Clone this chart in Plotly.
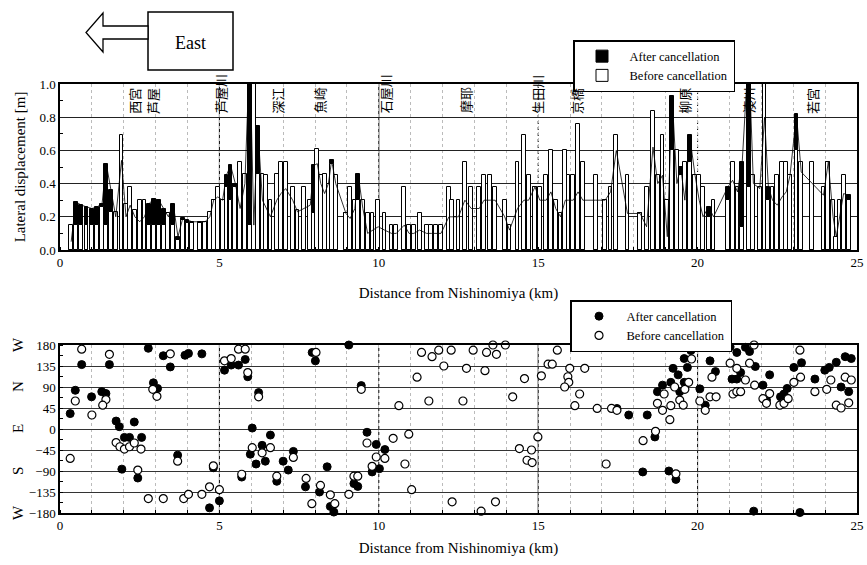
import plotly.graph_objects as go

# ---------------- data: top panel (lateral displacement, m) ----------------
bar_km = [0.35, 0.5, 0.67, 0.83, 1.0, 1.17, 1.32, 1.45, 1.6, 1.75, 1.93, 2.07, 2.2, 2.35,
          2.5, 2.65, 2.8, 2.95, 3.1, 3.25, 3.4, 3.55, 3.7, 3.85, 4.0, 4.15, 4.4, 4.55,
          4.7, 4.82, 4.95, 5.1, 5.22, 5.35, 5.5, 5.65, 5.8, 5.95, 6.08, 6.2,
          6.35, 6.47, 6.6, 6.8, 6.93, 7.08, 7.3, 7.45, 7.65, 7.85, 7.97, 8.07, 8.18,
          8.3, 8.42, 8.52, 8.65, 8.97, 9.1, 9.25, 9.35, 9.5, 9.65, 9.8, 9.98, 10.18,
          10.4, 10.55, 10.8, 10.95, 11.1, 11.28, 11.5, 11.65, 11.8, 11.95, 12.2, 12.3,
          12.5, 12.7, 12.9, 13.15, 13.3, 13.5, 13.65, 13.95, 14.1, 14.35, 14.55, 14.7,
          14.9, 15.05, 15.25, 15.4, 15.55, 15.7, 15.85, 15.95, 16.1, 16.25, 16.4, 16.8,
          17.1, 17.27, 17.45, 17.8, 18.2, 18.4, 18.6, 18.75, 18.9, 19.05, 19.2, 19.35,
          19.47, 19.6, 19.75, 19.92, 20.05, 20.17, 20.35, 20.5, 20.95, 21.1, 21.25,
          21.4, 21.6, 21.75, 21.95, 22.1, 22.22, 22.35, 22.5, 22.65, 22.78, 22.9,
          23.1, 23.25, 23.6, 23.95, 24.1, 24.25, 24.35, 24.45, 24.58, 24.75]
before_disp = [0.15, 0.15, 0.15, 0.15, 0.15, 0.15, 0.26, 0.15, 0.23, 0.23, 0.69, 0.28, 0.38, 0.24,
               0.30, 0.30, 0.15, 0.15, 0.15, 0.15, 0.22, 0.15, 0.06, 0.18, 0.16, 0.16, 0.16, 0.17,
               0.23, 0.30, 0.38, 0.30, 0.38, 0.30, 0.38, 0.53, 0.46, 0.15, 1.20, 0.46,
               0.46, 0.45, 0.30, 0.46, 0.53, 0.53, 0.38, 0.24, 0.38, 0.30, 0.22, 0.61, 0.45,
               0.46, 0.40, 0.52, 0.45, 0.22, 0.38, 0.30, 0.30, 0.30, 0.22, 0.22, 0.30, 0.22,
               0.15, 0.15, 0.38, 0.15, 0.15, 0.22, 0.15, 0.15, 0.15, 0.15, 0.38, 0.30,
               0.30, 0.53, 0.38, 0.38, 0.45, 0.45, 0.38, 0.30, 0.15, 0.53, 0.69, 0.45,
               0.38, 0.38, 0.45, 0.60, 0.30, 0.22, 0.60, 0.45, 0.45, 0.76, 0.53, 0.45,
               0.30, 0.38, 0.69, 0.45, 0.22, 0.38, 0.84, 0.45, 0.69, 0.30, 0.60, 0.60,
               0.45, 0.53, 0.53, 0.45, 0.45, 0.38, 0.20, 0.30, 0.30, 0.53, 0.38,
               0.14, 0.38, 0.45, 0.38, 1.20, 0.30, 0.38, 0.45, 0.53, 0.53, 0.45,
               0.60, 0.53, 0.53, 0.38, 0.53, 0.30, 0.08, 0.30, 0.45, 0.30]
after_disp = [0.05, 0.29, 0.27, 0.26, 0.25, 0.26, 0.28, 0.52, 0.36, 0.20, 0.54, 0.20, 0.27, 0.20,
              0.17, 0.20, 0.28, 0.31, 0.30, 0.25, 0.20, 0.28, 0.08, 0.19, 0.18, 0.17, 0.17, 0.17,
              0.20, 0.30, 0.32, 0.30, 0.45, 0.51, 0.40, 0.25, 0.40, 1.20, 0.15, 0.75,
              0.30, 0.25, 0.20, 0.30, 0.34, 0.37, 0.30, 0.23, 0.25, 0.27, 0.51, 0.52, 0.40,
              0.34, 0.40, 0.54, 0.40, 0.22, 0.19, 0.25, 0.46, 0.25, 0.10, 0.12, 0.14, 0.12,
              0.10, 0.10, 0.15, 0.10, 0.10, 0.12, 0.10, 0.10, 0.10, 0.10, 0.20, 0.20,
              0.20, 0.30, 0.25, 0.25, 0.30, 0.30, 0.30, 0.20, 0.12, 0.25, 0.30, 0.30,
              0.38, 0.30, 0.30, 0.35, 0.25, 0.20, 0.30, 0.30, 0.30, 0.35, 0.30, 0.30,
              0.30, 0.35, 0.60, 0.22, 0.22, 0.14, 0.62, 0.40, 0.45, 0.08, 0.93, 0.40,
              0.50, 0.30, 0.69, 0.45, 0.30, 0.20, 0.26, 0.20, 0.38, 0.42, 0.35,
              0.53, 1.20, 0.40, 0.37, 0.80, 0.38, 0.30, 0.27, 0.32, 0.35, 0.45,
              0.82, 0.47, 0.40, 0.33, 0.53, 0.20, 0.08, 0.20, 0.34, 0.33]

station_names = ["西宮", "芦屋", "芦屋川", "深江", "魚崎", "石屋川", "摩耶", "生田川",
                 "京橋", "柳原", "湊川", "若宮"]
station_km = [2.33, 2.9, 5.02, 6.81, 8.15, 10.2, 12.72, 14.95, 16.2, 19.58, 21.6, 23.6]

# ---------------- data: bottom panel (direction, deg) ----------------
after_dir_km = [0.32, 0.68, 0.48, 0.99, 1.31, 1.44, 1.55, 1.76, 1.86, 2.02, 2.18, 2.33, 2.56, 1.94,
                2.44, 2.77, 2.93, 3.06, 3.24, 3.46, 3.69, 3.92, 4.03, 4.45, 4.69, 4.81, 5.0, 5.16,
                5.37, 5.6, 5.81, 5.89, 6.23, 6.03, 5.97, 6.15, 6.34, 6.44, 6.6, 5.7, 7.0, 7.16,
                6.8, 7.32, 7.91, 8.01, 8.38, 7.7, 8.14, 8.48, 8.59, 9.06, 9.45, 9.63, 9.92,
                10.19, 9.79, 10.02, 9.22, 9.34,
                17.47, 17.84, 18.42, 18.66, 18.28, 19.1, 19.32, 18.74, 18.9, 19.16, 19.23,
                19.39, 19.44, 19.58, 19.58, 19.79, 19.68, 20.07, 20.24, 20.56, 20.39, 20.49,
                21.02, 21.23, 21.08, 21.23, 21.35, 21.5, 21.63, 21.81, 22.05, 22.16, 22.26,
                22.6, 22.71, 22.81, 23.02, 23.26, 23.68, 23.99, 24.13, 24.35, 24.5, 24.74,
                24.63, 24.82, 21.76, 23.21]
after_dir_deg = [33, 138, 83, 69, 80, 76, 138, 17, 5, -18, -18, 15, -18, -86,
                 -105, 173, 99, 87, 157, 133, -56, 158, 162, 161, -169, -83, -154, 126,
                 137, 137, 149, 112, 78, 2, -54, -75, -35, -69, -13, -103, -69, -88,
                 -112, -48, 164, 146, -81, -124, -135, -166, -178, 180, 93, -7, -33,
                 -44, -92, -85, -117, -123,
                 44, 30, 30, -17, -92, -90, -108, 80, 94, 100, 130,
                 116, 80, 100, 151, 168, 132, 86, 51, 123, 146, 176,
                 176, 164, 107, 107, 121, 175, 166, 134, 94, 62, 116,
                 69, 75, 87, 132, 142, 107, 126, 132, 143, 90, 80,
                 155, 151, -176, -179]
before_dir_km = [0.68, 0.48, 0.32, 1.0, 1.44, 1.34, 1.55, 1.76, 1.88, 2.02, 2.18, 2.33, 2.54, 2.44,
                 2.77, 2.91, 3.04, 3.46, 3.24, 3.69, 3.88, 4.03, 4.45, 4.69, 4.81, 5.0, 5.16, 5.37,
                 5.6, 5.81, 5.89, 6.23, 6.03, 6.34, 6.6, 5.7, 6.8, 7.32, 8.03, 7.72, 8.17, 8.48,
                 7.9, 8.62, 9.45, 9.63, 9.92, 10.19, 10.45, 10.94, 9.79, 9.22, 9.34, 9.06, 10.82,
                 11.03, 12.3, 13.21, 13.66, 10.63, 11.2, 11.34, 11.67, 11.88, 12.04, 12.27, 11.57,
                 12.64, 12.75, 12.96, 13.33, 13.38, 13.58, 13.69, 13.97, 14.2, 14.57, 15.1, 15.31,
                 15.44, 15.6, 15.99, 16.46, 15.93, 15.96, 15.83, 16.3, 16.15, 16.85, 14.41, 14.79,
                 14.65, 14.81, 14.99, 17.3, 17.47, 18.29, 18.68, 17.13, 19.32, 18.95, 18.74, 18.9,
                 19.13, 19.16, 19.28, 19.44, 19.6, 19.55, 19.81, 19.72, 20.07, 20.24, 20.39, 20.58,
                 20.45, 21.02, 21.23, 21.11, 21.23, 21.35, 21.5, 21.77, 21.63, 21.79, 22.05, 22.16,
                 22.26, 22.58, 22.71, 22.84, 23.02, 23.23, 23.21, 23.68, 24.05, 24.18, 24.35, 24.5,
                 24.63, 24.82, 24.74]
before_dir_deg = [171, 60, -63, 30, 63, 51, 160, -29, -38, -43, -38, -30, -43, -88,
                  -149, 85, 70, 161, -149, -69, -149, -140, -140, -124, -79, -130, 146, 151,
                  171, 171, 121, 69, -40, -51, -40, -97, -101, -61, 164, -106, -121, -141,
                  -160, -160, 85, -30, -60, -63, -20, -11, -80, -101, -101, -140, -75,
                  -130, -156, -176, -156, 50, 111, 164, 155, 169, 135, 169, 60,
                  60, 130, 169, 125, 164, 180, 160, 180, 69, 108, 114, 139,
                  139, 169, 130, 130, 112, 100, 90, 75, 50, 44, -42, -45,
                  -67, -72, -17, 44, 40, -25, -5, -75, -96, 75, 55, 40,
                  20, 50, 90, 62, 85, 51, 150, 100, 60, 40, 69, 69,
                  111, 141, 130, 75, 80, 80, 105, 180, 141, 94, 65, 55,
                  76, 51, 55, 65, 100, 111, 169, 80, 85, 105, 51, 45,
                  111, 105, 56]

dir_ticks = [180, 135, 90, 45, 0, -45, -90, -135, -180]
compass_labels = ["W", "N", "E", "S", "W"]
compass_deg = [180, 90, 0, -90, -180]

# ---------------- figure ----------------
SERIF = "Liberation Serif"
W, H = 867, 565
ML, MR, MT, MB = 60, 10, 84, 52
PW, PH = W - ML - MR, H - MT - MB


def px_x(px):
    return (px - ML) / PW


def px_y(py):
    return (H - MB - py) / PH


fig = go.Figure()

fig.add_trace(go.Bar(x=bar_km, y=after_disp, width=0.12, name="After cancellation",
                     marker=dict(color="black", line=dict(color="black", width=1)),
                     xaxis="x", yaxis="y", legend="legend"))
fig.add_trace(go.Bar(x=bar_km, y=before_disp, width=0.12, name="Before cancellation",
                     marker=dict(color="white", line=dict(color="black", width=1)),
                     xaxis="x", yaxis="y", legend="legend"))
fig.add_trace(go.Scatter(x=bar_km, y=after_disp, mode="lines", showlegend=False,
                         line=dict(color="black", width=0.8), xaxis="x", yaxis="y"))

fig.add_trace(go.Scatter(x=after_dir_km, y=after_dir_deg, mode="markers", name="After cancellation",
                         marker=dict(symbol="circle", size=8, color="black",
                                     line=dict(color="black", width=1)),
                         xaxis="x2", yaxis="y2", legend="legend2", cliponaxis=False))
fig.add_trace(go.Scatter(x=before_dir_km, y=before_dir_deg, mode="markers", name="Before cancellation",
                         marker=dict(symbol="circle", size=8, color="white",
                                     line=dict(color="black", width=1.2)),
                         xaxis="x2", yaxis="y2", legend="legend2", cliponaxis=False))

axis_font = dict(family=SERIF, size=13, color="black")
title_font = dict(family=SERIF, size=15, color="black")

common_x = dict(range=[0, 25], tickvals=[0, 5, 10, 15, 20, 25], showline=True, linecolor="black",
                linewidth=1.5, mirror=True, ticks="", tickfont=axis_font, showgrid=False,
                zeroline=False, automargin=False,
                minor=dict(dtick=1, ticks="inside", ticklen=3, tickcolor="black",
                           showgrid=True, gridcolor="#bbbbbb", griddash="dot", gridwidth=0.6))

fig.update_layout(
    width=W, height=H, margin=dict(l=ML, r=MR, t=MT, b=MB, autoexpand=False),
    paper_bgcolor="white", plot_bgcolor="white", barmode="overlay", bargap=0,
    font=dict(family=SERIF, color="black"),
    xaxis=dict(common_x, domain=[0, 1], anchor="y",
               title=dict(text="Distance from Nishinomiya (km)", font=title_font, standoff=18)),
    yaxis=dict(domain=[px_y(250), 1], range=[0, 1], dtick=0.2, tickformat=".1f",
               showline=True, linecolor="black", linewidth=1.5, mirror=True, automargin=False,
               ticks="", tickfont=axis_font, showgrid=True, gridcolor="#222222", gridwidth=1,
               zeroline=False,
               minor=dict(dtick=0.1, ticks="inside", ticklen=3, tickcolor="black"),
               title=dict(text="Lateral displacement [m]", font=title_font, standoff=10)),
    xaxis2=dict(common_x, domain=[0, 1], anchor="y2",
                title=dict(text="Distance from Nishinomiya (km)", font=title_font, standoff=10)),
    yaxis2=dict(domain=[0, px_y(345)], range=[-180, 180], tickvals=dir_ticks,
                showline=True, linecolor="black", linewidth=1.5, mirror=True, automargin=False,
                ticks="", tickfont=axis_font, showgrid=True, gridcolor="#333333", gridwidth=0.8,
                zeroline=False,
                minor=dict(dtick=22.5, ticks="inside", ticklen=3, tickcolor="black")),
    legend=dict(x=px_x(573), y=px_y(40), xanchor="left", yanchor="top",
                bgcolor="white", bordercolor="black", borderwidth=1.5,
                font=dict(family=SERIF, size=12.5, color="black"), traceorder="normal",
                itemwidth=45),
    legend2=dict(x=px_x(570), y=px_y(300), xanchor="left", yanchor="top",
                 bgcolor="white", bordercolor="black", borderwidth=1.5,
                 font=dict(family=SERIF, size=12.5, color="black"), traceorder="normal",
                 itemwidth=45),
)

shapes = []
# river / reference vertical lines
for xv, dash in [(5, "solid"), (10, "solid"), (15, "dot"), (20, "dot")]:
    shapes.append(dict(type="line", xref="x", yref="y", x0=xv, x1=xv, y0=0, y1=1,
                       line=dict(color="black", width=1, dash=dash), layer="below"))
for xv, dash in [(5, "solid"), (10, "dot"), (15, "solid"), (20, "solid")]:
    shapes.append(dict(type="line", xref="x2", yref="y2", x0=xv, x1=xv, y0=-180, y1=180,
                       line=dict(color="black", width=1, dash=dash), layer="below"))
# "East" box and arrow
shapes.append(dict(type="rect", xref="paper", yref="paper", x0=px_x(148), x1=px_x(233),
                   y0=px_y(70), y1=px_y(12), line=dict(color="black", width=1.5),
                   fillcolor="white"))
pts = [(148, 26), (103, 26), (103, 13), (86, 32.5), (103, 52), (103, 39), (148, 39)]
path = "M " + " L ".join(f"{px_x(a):.5f},{px_y(b):.5f}" for a, b in pts) + " Z"
shapes.append(dict(type="path", xref="paper", yref="paper", path=path,
                   line=dict(color="black", width=1.3), fillcolor="white"))
fig.update_layout(shapes=shapes)

ann = [dict(text="East", xref="paper", yref="paper", x=px_x(190), y=px_y(43),
            xanchor="center", yanchor="middle",
            showarrow=False, font=dict(family=SERIF, size=18, color="black"))]
for name, km in zip(station_names, station_km):
    ann.append(dict(text=name, xref="x", yref="y", x=km, y=0.81, textangle=-90,
                    xanchor="center", yanchor="bottom", showarrow=False,
                    font=dict(family="Noto Sans CJK JP", size=13, color="black")))
for lab, deg in zip(compass_labels, compass_deg):
    ann.append(dict(text=lab, xref="paper", yref="y2", x=px_x(18), y=deg, textangle=-90,
                    xanchor="center", yanchor="middle",
                    showarrow=False, font=dict(family=SERIF, size=15, color="black")))
fig.update_layout(annotations=ann)

fig.write_html("out.html", config={"displayModeBar": False},
               post_script="document.body.style.margin='0';")
